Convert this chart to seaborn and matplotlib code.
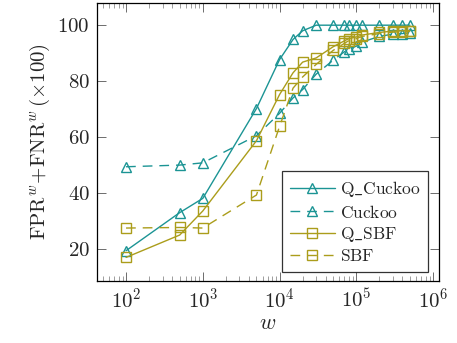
import matplotlib
matplotlib.use('Agg')
import matplotlib.pyplot as plt
import seaborn as sns
import numpy as np
from matplotlib.ticker import LogLocator, NullFormatter

# Données
w = [100, 500, 1000, 5000, 10000, 15000, 20000, 30000, 50000, 70000,
     80000, 100000, 120000, 200000, 300000, 400000, 500000]
q_cuckoo = [19.4, 33.0, 38.1, 70.2, 87.7, 94.9, 98.0, 100, 100, 100,
            100, 100, 100, 100, 100, 100, 100]
cuckoo = [49.4, 50.0, 50.8, 60.5, 68.5, 74.0, 77.0, 82.5, 87.5, 90.5,
          91.5, 92.5, 94.0, 96.0, 96.8, 97.0, 97.3]
q_sbf = [17.0, 25.0, 33.6, 58.7, 75.2, 83.0, 86.8, 88.3, 92.3, 94.4,
         95.2, 95.8, 96.5, 97.4, 97.9, 98.0, 98.0]
sbf = [27.5, 27.7, 27.5, 39.3, 63.8, 77.5, 81.5, 86.0, 91.0, 93.5,
       94.5, 95.2, 96.0, 97.0, 97.5, 97.7, 97.8]

sns.set_style('ticks')
plt.rcParams['font.family'] = 'serif'
plt.rcParams['font.serif'] = ['cmr10', 'DejaVu Serif']
plt.rcParams['mathtext.fontset'] = 'cm'
plt.rcParams['axes.formatter.use_mathtext'] = True

teal = '#1b9494'
olive = '#ab9d1b'

fig = plt.figure(figsize=(4.57, 3.43), dpi=100)
ax = fig.add_axes([0.212, 0.181, 0.749, 0.810])

series = [
    (q_cuckoo, r'$\mathrm{Q\_Cuckoo}$', teal, '^', '-'),
    (cuckoo, r'$\mathrm{Cuckoo}$', teal, '^', (0, (7, 5))),
    (q_sbf, r'$\mathrm{Q\_SBF}$', olive, 's', '-'),
    (sbf, r'$\mathrm{SBF}$', olive, 's', (0, (7, 5))),
]
for vals, lab, col, mk, ls in series:
    sns.lineplot(x=w, y=vals, ax=ax, color=col, marker=mk, linestyle=ls,
                 linewidth=1.0, markersize=7, markerfacecolor='none',
                 markeredgecolor=col, markeredgewidth=1.0, label=lab)

ax.set_xscale('log')
ax.set_xlim(10 ** 1.62, 10 ** 6.08)
ax.set_ylim(8.6, 107.9)
ax.set_yticks([20, 40, 60, 80, 100])
ax.xaxis.set_minor_locator(LogLocator(base=10, subs=np.arange(2, 10)))
ax.xaxis.set_minor_formatter(NullFormatter())
ax.tick_params(which='major', direction='in', length=6.5, width=0.6,
               top=True, right=True, labelsize=15, pad=5, color='#555555')
ax.tick_params(which='minor', direction='in', length=3.5, width=0.5,
               top=True, right=True, color='#777777')
for s in ax.spines.values():
    s.set_linewidth(0.9)
    s.set_color('black')

ax.set_xlabel(r'$w$', fontsize=16, labelpad=1)
ax.set_ylabel(r'$\mathrm{FPR}^w\!+\!\mathrm{FNR}^w\,(\times 100)$',
              fontsize=15, labelpad=4)

leg = ax.legend(loc='lower right', bbox_to_anchor=(0.968, 0.032),
                fontsize=12.5, frameon=True, fancybox=False,
                edgecolor='black', handlelength=2.6, handletextpad=0.3,
                labelspacing=0.25, borderpad=0.45, borderaxespad=0.0)
leg.get_frame().set_linewidth(0.9)

plt.savefig('out.png', dpi=100)
